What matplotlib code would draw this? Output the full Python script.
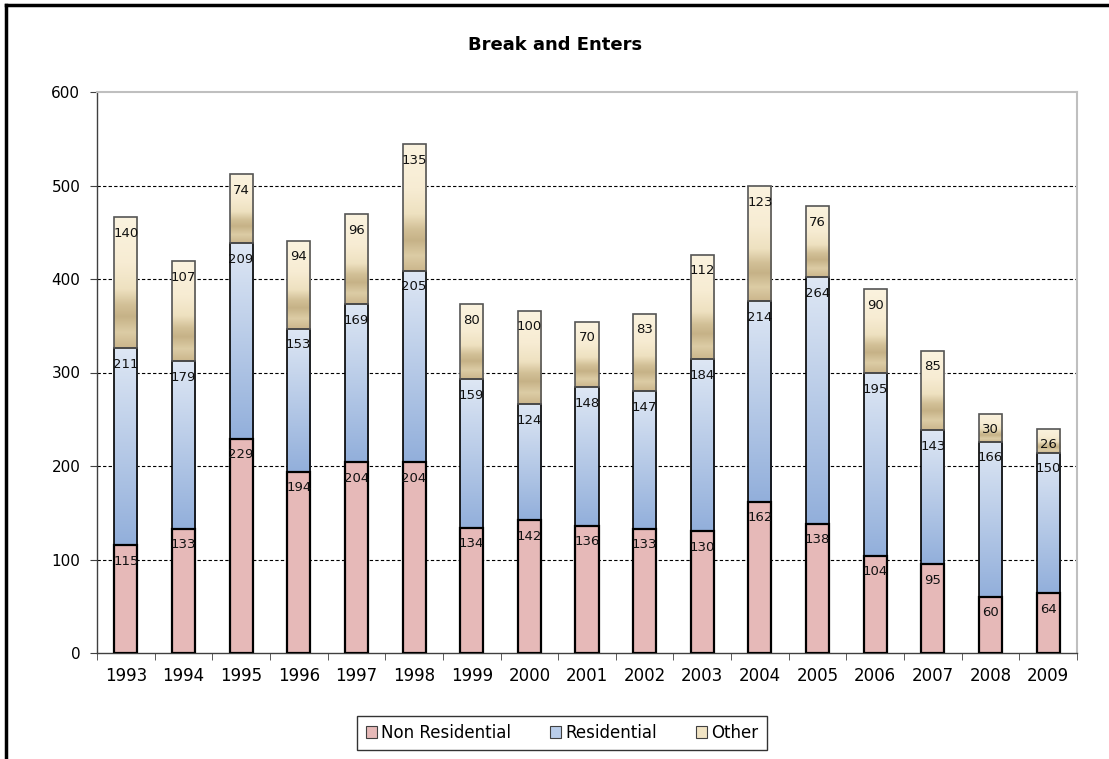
import numpy as np
import matplotlib
matplotlib.use("Agg")
import matplotlib.pyplot as plt
from matplotlib.colors import LinearSegmentedColormap
from matplotlib.patches import Patch
from matplotlib.lines import Line2D

years = ["1993", "1994", "1995", "1996", "1997", "1998", "1999", "2000", "2001",
         "2002", "2003", "2004", "2005", "2006", "2007", "2008", "2009"]
non_residential = [115, 133, 229, 194, 204, 204, 134, 142, 136, 133, 130, 162, 138, 104, 95, 60, 64]
residential = [211, 179, 209, 153, 169, 205, 159, 124, 148, 147, 184, 214, 264, 195, 143, 166, 150]
other = [140, 107, 74, 94, 96, 135, 80, 100, 70, 83, 112, 123, 76, 90, 85, 30, 26]
series_names = ["Non Residential", "Residential", "Other"]

plt.rcParams['font.family'] = ['DejaVu Sans']

fig = plt.figure(figsize=(11.09, 7.59), dpi=100)
ax = fig.add_axes([97/1109, 1-653/759, (1077-97)/1109, (653-92)/759])

x = np.arange(len(years))
width = 0.40

pink = "#E6B9B8"
res_cmap = LinearSegmentedColormap.from_list("res", [(0, "#92AFDB"), (1, "#DEE7F4")])
oth_cmap = LinearSegmentedColormap.from_list(
    "oth", [(0, "#CBB68C"), (0.12, "#DCCCA5"), (0.24, "#C6B287"), (0.33, "#D2C097"),
            (0.45, "#EEE1C0"), (0.65, "#F7ECD3"), (1.0, "#FBF3DF")])

grad = np.linspace(0, 1, 256).reshape(-1, 1)

b1 = ax.bar(x, non_residential, width, color=pink, edgecolor="black", linewidth=1.6, zorder=3)
bottom2 = np.array(non_residential)
b2 = ax.bar(x, residential, width, bottom=bottom2, color="none", edgecolor="black", linewidth=1.2, zorder=3)
bottom3 = bottom2 + np.array(residential)
b3 = ax.bar(x, other, width, bottom=bottom3, color="none", edgecolor="#555555", linewidth=1.2, zorder=3)

for bars, cmap in ((b2, res_cmap), (b3, oth_cmap)):
    for r in bars:
        x0, y0 = r.get_x(), r.get_y()
        w, h = r.get_width(), r.get_height()
        im = ax.imshow(grad, extent=[x0, x0 + w, y0, y0 + h], origin="lower",
                       aspect="auto", cmap=cmap, zorder=2, interpolation="bilinear")
        im.set_clip_path(r)

# data labels
for bars, vals in ((b1, non_residential), (b2, residential), (b3, other)):
    for r, v in zip(bars, vals):
        ax.annotate(str(v), (r.get_x() + r.get_width() / 2, r.get_y() + r.get_height()),
                    xytext=(0, -11.5), textcoords="offset points", ha="center", va="center",
                    fontsize=9.5, color="#111111", zorder=5)

ax.set_xlim(-0.5, len(years) - 0.5)
ax.set_ylim(0, 600)
ax.set_yticks(range(0, 601, 100))
ax.set_xticks(x)
ax.set_xticklabels(years, fontsize=12)
ax.tick_params(axis="x", which="major", length=0, pad=10)
ax.set_xticks(np.arange(-0.5, len(years), 1), minor=True)
ax.tick_params(axis="x", which="minor", length=5, direction="out", color="#404040")
ax.tick_params(axis="y", length=5, direction="out", labelsize=11, pad=7, color="#404040")

for yv in range(100, 600, 100):
    ax.axhline(yv, color="black", linestyle=(0, (3, 2)), linewidth=0.8, zorder=1)

for s in ("top", "right"):
    ax.spines[s].set_color("#BFBFBF")
    ax.spines[s].set_linewidth(1.5)
for s in ("left", "bottom"):
    ax.spines[s].set_color("#404040")
    ax.spines[s].set_linewidth(1.0)

fig.text(555/1109, 1-45/759, "Break and Enters", ha="center", va="center",
         fontsize=13, fontweight="bold")

handles = [Patch(facecolor=pink, edgecolor="#404040", linewidth=0.8),
           Patch(facecolor="#B9CDEA", edgecolor="#404040", linewidth=0.8),
           Patch(facecolor="#F1E4C4", edgecolor="#404040", linewidth=0.8)]
leg = fig.legend(handles, series_names, loc="center", bbox_to_anchor=(562/1109, 1-733/759),
                 ncol=3, fontsize=12, frameon=True, fancybox=False, handlelength=0.7,
                 handleheight=0.7, handletextpad=0.25, columnspacing=2.3, borderpad=0.5,
                 borderaxespad=0)
leg.get_frame().set_edgecolor("black")
leg.get_frame().set_linewidth(1.0)

# figure border (top and left)
fig.add_artist(Line2D([6/1109, 1], [1-5/759, 1-5/759], color="black", linewidth=2.5,
                      transform=fig.transFigure))
fig.add_artist(Line2D([6/1109, 6/1109], [0, 1-5/759], color="black", linewidth=2.5,
                      transform=fig.transFigure))

fig.savefig("out.png", dpi=100)
